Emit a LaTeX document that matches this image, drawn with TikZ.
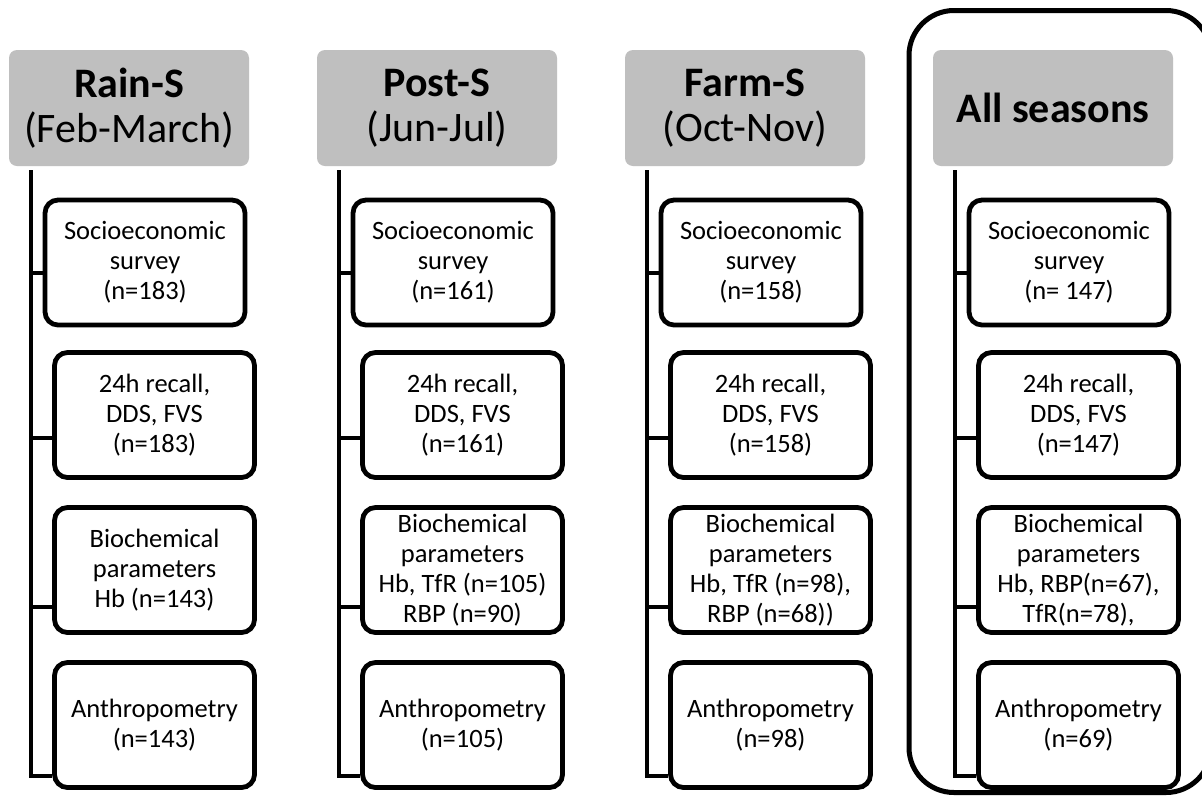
\documentclass[tikz,border=0pt]{standalone}
\usepackage{fontspec}
\setmainfont{Carlito}
\definecolor{hdrgray}{HTML}{BFBFBF}
\tikzset{
  hdr/.style={fill=hdrgray, rounded corners=8pt, minimum width=240pt, minimum height=116pt,
    inner sep=0pt, align=center, font=\fontsize{42}{45.5}\selectfont},
  itembox/.style={draw, line width=4.8pt, rounded corners=13pt, fill=white, minimum width=200pt,
    minimum height=125pt, inner sep=0pt, align=center, font=\fontsize{26.5}{30}\selectfont},
  conn/.style={line width=4.8pt, line join=miter},
  framebox/.style={draw, line width=5pt, rounded corners=45pt, minimum width=302pt,
    minimum height=782pt, inner sep=0pt},
}
\begin{document}
\begin{tikzpicture}[x=1pt,y=-1pt]
\useasboundingbox (0,0) rectangle (1202,796);
\fill[white] (0,0) rectangle (1202,796);

% frame around "All seasons"
\node[framebox] (frame) at (1060,401.5) {};

% ---------- column 1 ----------
\node[hdr] (h1) at (129,108) {\textbf{Rain-S}\\(Feb-March)};
\node[itembox] (b11) at (145,262.5) {Socioeconomic\\survey\\(n=183)};
\node[itembox] (b12) at (154.5,415) {24h recall,\\DDS, FVS\\(n=183)};
\node[itembox] (b13) at (154.5,570) {Biochemical\\parameters\\Hb (n=143)};
\node[itembox] (b14) at (154.5,725) {Anthropometry\\(n=143)};

% ---------- column 2 ----------
\node[hdr] (h2) at (437,108) {\textbf{Post-S}\\(Jun-Jul)};
\node[itembox] (b21) at (453,262.5) {Socioeconomic\\survey\\(n=161)};
\node[itembox] (b22) at (462.5,415) {24h recall,\\DDS, FVS\\(n=161)};
\node[itembox] (b23) at (462.5,570) {Biochemical\\parameters\\Hb, TfR (n=105)\\RBP (n=90)};
\node[itembox] (b24) at (462.5,725) {Anthropometry\\(n=105)};

% ---------- column 3 ----------
\node[hdr] (h3) at (745,108) {\textbf{Farm-S}\\(Oct-Nov)};
\node[itembox] (b31) at (761,262.5) {Socioeconomic\\survey\\(n=158)};
\node[itembox] (b32) at (770.5,415) {24h recall,\\DDS, FVS\\(n=158)};
\node[itembox] (b33) at (770.5,570) {Biochemical\\parameters\\Hb, TfR (n=98),\\RBP (n=68))};
\node[itembox] (b34) at (770.5,725) {Anthropometry\\(n=98)};

% ---------- column 4 ----------
\node[hdr] (h4) at (1053,108) {\textbf{All seasons}};
\node[itembox] (b41) at (1069,262.5) {Socioeconomic\\survey\\(n= 147)};
\node[itembox] (b42) at (1078.5,415) {24h recall,\\DDS, FVS\\(n=147)};
\node[itembox] (b43) at (1078.5,570) {Biochemical\\parameters\\Hb, RBP(n=67),\\TfR(n=78),};
\node[itembox] (b44) at (1078.5,725) {Anthropometry\\(n=69)};

% ---------- connectors ----------
\foreach \c/\lx in {1/31,2/339,3/647,4/955}{
  \coordinate (t\c) at (\lx,170);
  \coordinate (c\c1) at ([yshift=-10.5pt]b\c1.west);
  \coordinate (c\c2) at ([yshift=-23pt]b\c2.west);
  \coordinate (c\c3) at ([yshift=-37pt]b\c3.west);
  \coordinate (c\c4) at ([yshift=-51pt]b\c4.west);
  \draw[conn] (t\c) -- (t\c |- c\c4) -- (c\c4);
  \draw[conn] (t\c |- c\c1) -- (c\c1);
  \draw[conn] (t\c |- c\c2) -- (c\c2);
  \draw[conn] (t\c |- c\c3) -- (c\c3);
}
\end{tikzpicture}
\end{document}
